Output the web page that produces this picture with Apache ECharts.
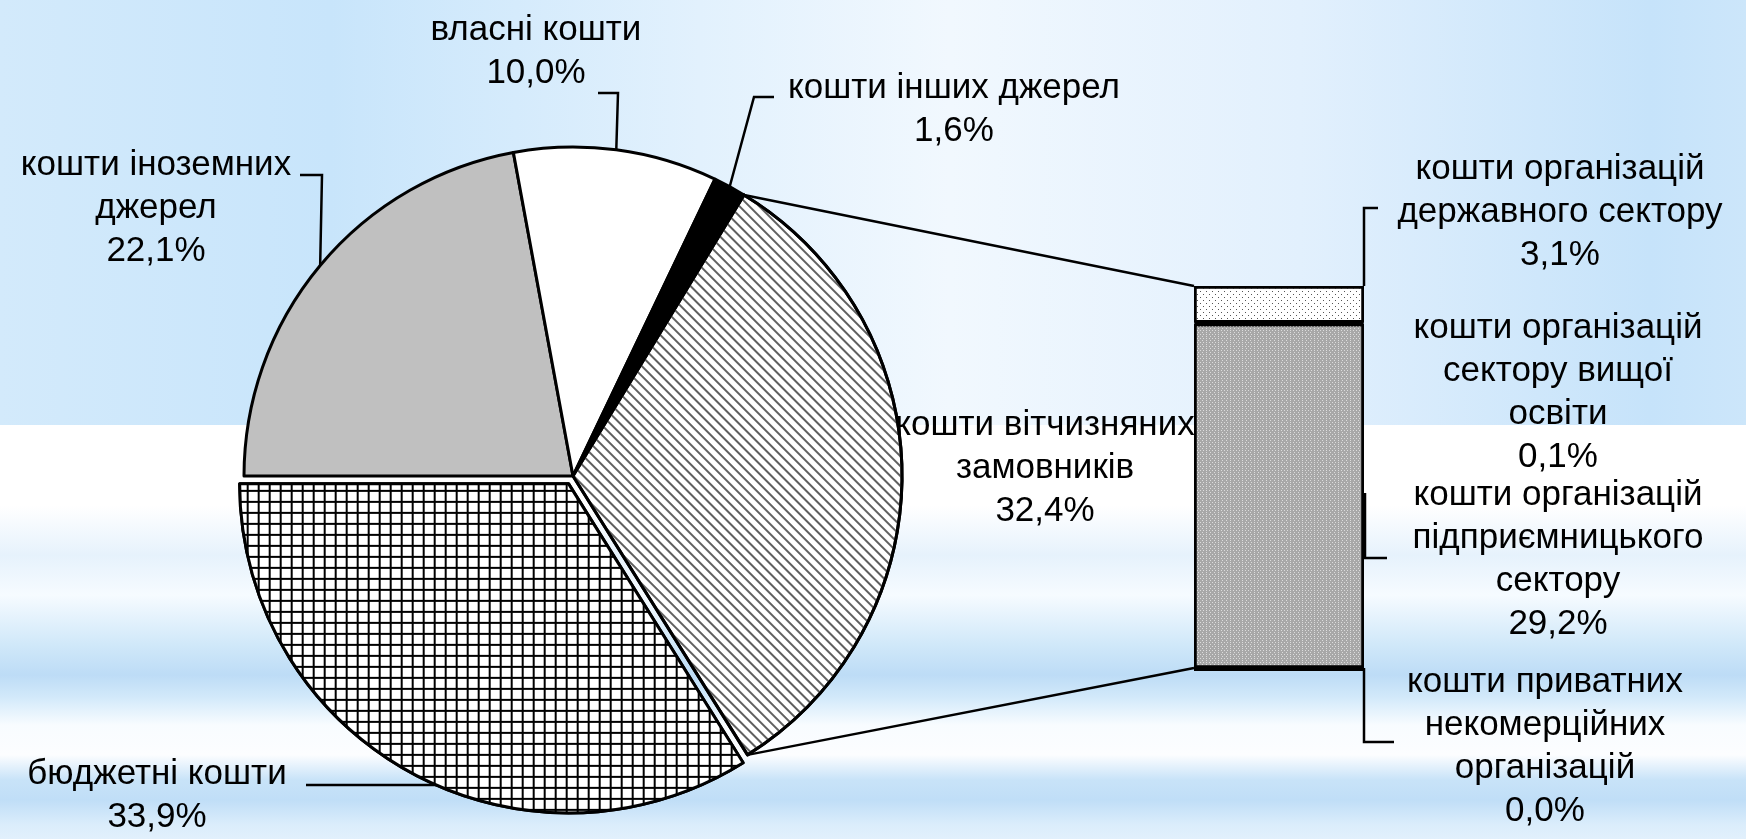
<!DOCTYPE html>
<html>
<head>
<meta charset="utf-8">
<script src="https://cdn.jsdelivr.net/npm/echarts@6/dist/echarts.min.js"></script>
<style>
  html, body { margin: 0; padding: 0; }
  body { width: 1746px; height: 839px; position: relative; overflow: hidden; background: #fff; }
  .bg-top {
    position: absolute; left: 0; top: 0; width: 1746px; height: 425px;
    background: linear-gradient(to right, #d3eafb 0px, #c8e5fb 330px, #e2f1fd 700px, #f1f8fe 950px, #e2f0fd 1300px, #c6e3fa 1650px, #cce6fa 1746px);
  }
  .bg-bottom {
    position: absolute; left: 0; top: 425px; width: 1746px; height: 414px;
    background: linear-gradient(to bottom, #fff 0px, #fff 80px, #e6f2fc 130px, #f6fbff 170px, #d0e8f9 220px, #bddcf6 250px, #d2e9fa 272px, #f8fcff 300px, #fcfdff 330px, #c8e3f8 355px, #c0def7 375px, #dbedfb 400px, #e2f0fc 414px);
  }
  #main { position: absolute; left: 0; top: 0; width: 1746px; height: 839px; }
</style>
</head>
<body>
<div class="bg-top"></div>
<div class="bg-bottom"></div>
<div id="main"></div>
<script>
// pie: clockwise from 9 o'clock
const pieNames = ['кошти іноземних\nджерел', 'власні кошти', 'кошти інших джерел', 'кошти вітчизняних\nзамовників', 'бюджетні кошти'];
const pieValues = [22.1, 10.0, 1.6, 32.4, 33.9];

// bar: stacked from bottom to top
const barNames = ['кошти приватних\nнекомерційних\nорганізацій', 'кошти організацій\nпідприємницького\nсектору', 'кошти організацій\nсектору вищої\nосвіти', 'кошти організацій\nдержавного сектору'];
const barValues = [0.0, 29.2, 0.1, 3.1];

const FONT = "'Liberation Sans', Arial, sans-serif";
const PIE_CX = 573, PIE_CY = 476, PIE_R = 329;
const GRID_LEFT = 1194, GRID_TOP = 286, GRID_W = 170, GRID_H = 382;
const EXPLODED = 4, OFFSET = 9;

// label centres and leader elbows [text end x, elbow x, y]
const pieLabelPos = [[156, 208], [536, 52], [954, 110], [1045, 468], [157, 796]];
const pieStubs = [[300, 322, 175], [598, 618, 93], [774, 754, 97], null, [306, null, 785]];
const barLabelPos = [[1545, 747], [1558, 560], [1558, 393], [1560, 212]];

const fmt = v => v.toFixed(1).replace('.', ',') + '%';

const pieStyles = [
  { color: '#c0c0c0' },
  { color: '#ffffff' },
  { color: '#000000' },
  { color: '#ffffff', decal: { symbol: 'rect', symbolSize: 1, dashArrayX: [1, 0], dashArrayY: [1.3, 4.2], rotation: Math.PI / 4, color: '#606060' } },
  { color: '#000000', decal: { symbol: 'rect', symbolSize: 1, dashArrayX: [9, 2], dashArrayY: [9, 2], color: '#ffffff' } }
];

const barStyles = [
  { color: '#000000' },
  { color: '#a8a8a8', decal: { symbol: 'rect', symbolSize: 1, dashArrayX: [[1, 2], [0, 1.5, 1, 0.5]], dashArrayY: [1, 1], color: '#dcdcdc' } },
  { color: '#ffffff' },
  { color: '#ffffff', decal: { symbol: 'rect', symbolSize: 1, dashArrayX: [[1, 5], [0, 3, 1, 2]], dashArrayY: [1, 2], color: '#555555' } }
];

// connectors from the split slice to the bar
const pieTotal = pieValues.reduce((a, b) => a + b, 0);
const before = pieValues[0] + pieValues[1] + pieValues[2];
const angStart = (180 - before / pieTotal * 360) * Math.PI / 180;
const angEnd = angStart - pieValues[3] / pieTotal * 2 * Math.PI;
const edgePoint = a => [PIE_CX + PIE_R * Math.cos(a), PIE_CY - PIE_R * Math.sin(a)];
const p1 = edgePoint(angStart), p2 = edgePoint(angEnd);
const barMax = barValues.reduce((a, b) => a + b, 0);
const barRight = GRID_LEFT + GRID_W, barBottom = GRID_TOP + GRID_H;

const lineStyle = { stroke: '#000', lineWidth: 2.5, fill: null };
const labelStyle = {
  show: true,
  color: '#000',
  fontSize: 35,
  lineHeight: 43,
  fontFamily: FONT
};

const pieLabelLayout = function (params) {
  const i = params.dataIndex;
  const res = { x: pieLabelPos[i][0], y: pieLabelPos[i][1], align: 'center', verticalAlign: 'middle' };
  const s = pieStubs[i];
  if (!s || !params.labelLinePoints) return res;
  const p0 = params.labelLinePoints[0];
  if (i === EXPLODED) {
    // horizontal leader meeting the edge of the pulled-out slice
    const ecx = PIE_CX + OFFSET * (p0[0] - PIE_CX) / PIE_R;
    const ecy = PIE_CY + OFFSET * (p0[1] - PIE_CY) / PIE_R;
    const x = ecx - Math.sqrt(PIE_R * PIE_R - (s[2] - ecy) * (s[2] - ecy));
    res.labelLinePoints = [[x + 2, s[2]], [s[0], s[2]]];
  } else {
    res.labelLinePoints = [p0, [s[1], s[2]], [s[0], s[2]]];
  }
  return res;
};

const myChart = echarts.init(document.getElementById('main'));

myChart.setOption({
  animation: false,
  textStyle: { fontFamily: FONT },
  grid: { left: GRID_LEFT, top: GRID_TOP, width: GRID_W, height: GRID_H },
  xAxis: { type: 'category', data: [''], show: false },
  yAxis: { type: 'value', min: 0, max: barMax, show: false },
  graphic: [
    { type: 'line', shape: { x1: p1[0], y1: p1[1], x2: GRID_LEFT, y2: GRID_TOP }, style: lineStyle },
    { type: 'line', shape: { x1: p2[0], y1: p2[1], x2: GRID_LEFT, y2: barBottom }, style: lineStyle },
    // bar label leaders
    { type: 'polyline', shape: { points: [[barRight, GRID_TOP], [barRight, 208], [barRight + 14, 208]] }, style: lineStyle },
    { type: 'polyline', shape: { points: [[barRight + 1, 493], [barRight + 1, 558], [barRight + 23, 558]] }, style: lineStyle },
    { type: 'polyline', shape: { points: [[barRight, barBottom], [barRight, 742], [barRight + 30, 742]] }, style: lineStyle }
  ],
  series: [
    {
      type: 'pie',
      center: [PIE_CX, PIE_CY],
      radius: PIE_R,
      startAngle: 180,
      avoidLabelOverlap: false,
      selectedMode: 'single',
      selectedOffset: OFFSET,
      itemStyle: { borderColor: '#000', borderWidth: 3 },
      label: Object.assign({ position: 'outside', formatter: p => p.name + '\n' + fmt(p.value) }, labelStyle),
      labelLine: { show: true, length: 0, length2: 0, smooth: false, lineStyle: { color: '#000', width: 2.5 } },
      labelLayout: pieLabelLayout,
      emphasis: { disabled: true },
      data: pieNames.map((name, i) => ({
        name: name,
        value: pieValues[i],
        selected: i === EXPLODED,
        itemStyle: pieStyles[i],
        label: { show: i !== EXPLODED },
        labelLine: { show: pieStubs[i] !== null && i !== EXPLODED }
      }))
    },
    {
      // invisible copy that carries the label of the pulled-out slice
      type: 'pie',
      center: [PIE_CX, PIE_CY],
      radius: PIE_R,
      startAngle: 180,
      silent: true,
      avoidLabelOverlap: false,
      itemStyle: { color: 'transparent', borderWidth: 0 },
      label: Object.assign({ position: 'outside', formatter: p => p.name + '\n' + fmt(p.value) }, labelStyle),
      labelLine: { show: true, length: 0, length2: 0, smooth: false, lineStyle: { color: '#000', width: 2.5 } },
      labelLayout: pieLabelLayout,
      emphasis: { disabled: true },
      data: pieNames.map((name, i) => ({
        name: name,
        value: pieValues[i],
        label: { show: i === EXPLODED },
        labelLine: { show: i === EXPLODED }
      }))
    }
  ].concat(barValues.map((v, i) => ({
    type: 'bar',
    name: barNames[i],
    stack: 'split',
    barWidth: '100%',
    data: [v],
    itemStyle: Object.assign({ borderColor: '#000', borderWidth: i === 0 ? 6 : 2.5 }, barStyles[i]),
    label: Object.assign({ position: 'right', formatter: p => barNames[i] + '\n' + fmt(p.value) }, labelStyle),
    labelLayout: { x: barLabelPos[i][0], y: barLabelPos[i][1], align: 'center', verticalAlign: 'middle' },
    emphasis: { disabled: true }
  })))
});
</script>
</body>
</html>
